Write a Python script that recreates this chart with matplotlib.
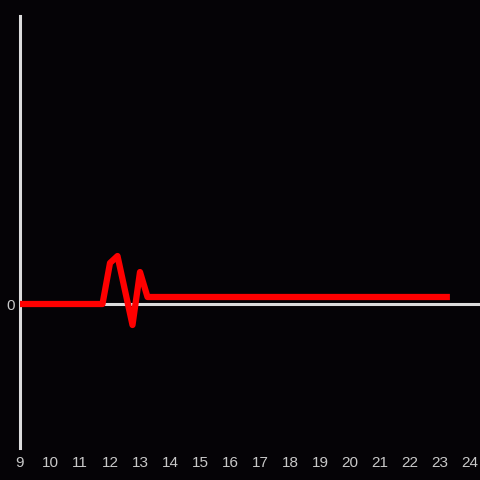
import numpy as np
import matplotlib
matplotlib.use("Agg")
import matplotlib.pyplot as plt

# hour of day and value
hours = [9.0, 11.75, 12.0, 12.25, 12.75, 13.0, 13.25, 23.33]
values = [0.0, 0.0, 4.1, 4.8, -2.1, 3.2, 0.7, 0.7]
xticks = list(range(9, 25))

bg = "#050306"
axis_col = "#dcdcdc"

fig = plt.figure(figsize=(4.8, 4.8), dpi=100, facecolor=bg)
ax = fig.add_axes([20/480, 32/480, 460/480, 432/480], facecolor=bg)

ax.plot(hours, values, color="#ff0000", lw=4.5, solid_joinstyle="round",
        solid_capstyle="butt", zorder=3)
ax.axhline(0, color=axis_col, lw=2.2, zorder=2)

ax.set_xlim(9, 9 + 460/30)
ax.set_ylim(-14.4, 28.8)

for s in ["top", "right", "bottom"]:
    ax.spines[s].set_visible(False)
ax.spines["left"].set_color(axis_col)
ax.spines["left"].set_linewidth(2.2)

ax.set_xticks(xticks)
ax.set_xticklabels([str(t) for t in xticks])
ax.set_yticks([0])
ax.set_yticklabels(["0"])
ax.tick_params(axis="both", length=0, colors="#c8c8c8", labelsize=11)
ax.tick_params(axis="x", pad=6)
ax.tick_params(axis="y", pad=4)
for lab in ax.get_xticklabels() + ax.get_yticklabels():
    lab.set_fontfamily("Liberation Sans")

fig.savefig("out.png", dpi=100, facecolor=bg)
